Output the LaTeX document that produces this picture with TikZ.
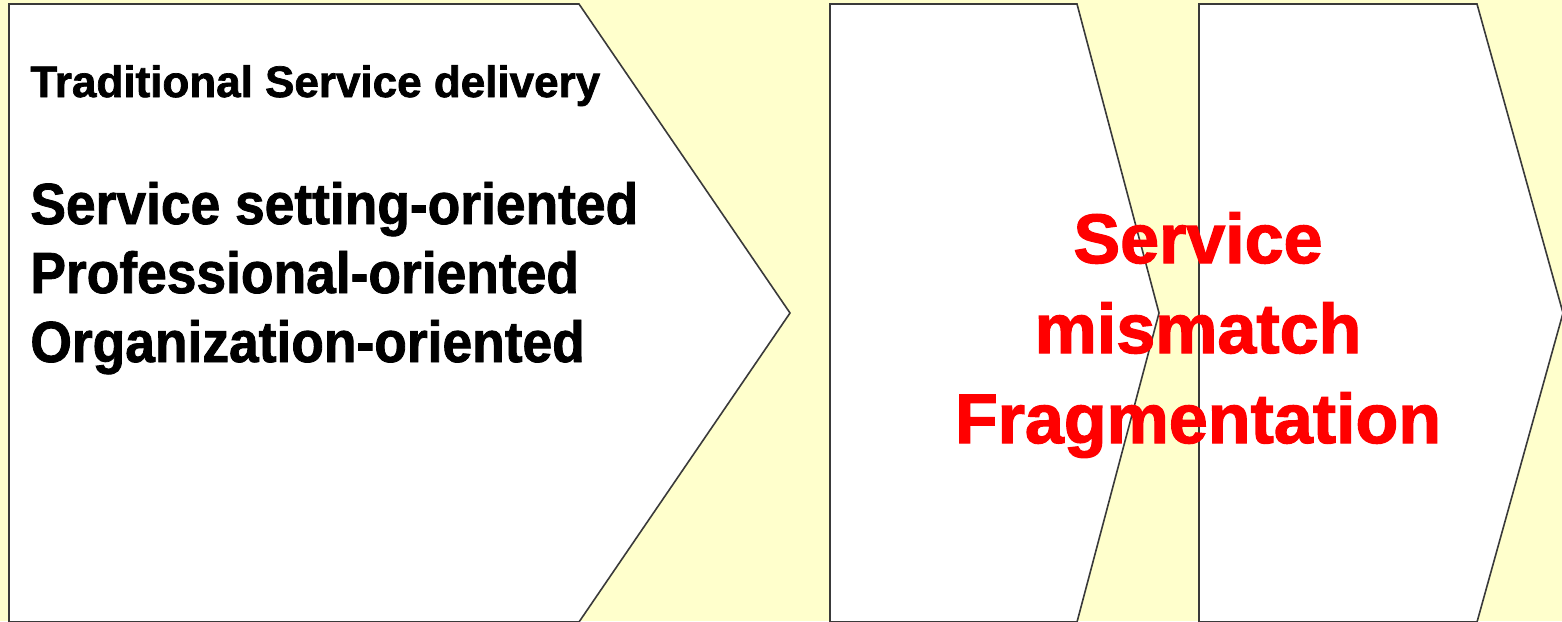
\documentclass[tikz,border=0pt]{standalone}
\usepackage{fontspec}
\setmainfont{Liberation Sans}
\newfontfamily\headfont[FakeBold=1.6]{Liberation Sans Bold}
\newfontfamily\bodyfont[FakeStretch=0.92,FakeBold=1.4]{Liberation Sans Bold}
\newfontfamily\warnfont[FakeBold=1.8]{Liberation Sans Bold}
\definecolor{paper}{HTML}{FFFFCC}
\definecolor{edge}{HTML}{3A3A3A}
\definecolor{alarm}{HTML}{FF0000}
\begin{document}
\begin{tikzpicture}[
		x = 0.5pt, y = -0.5pt,
		chev/.style = {draw=edge, fill=white, line width=0.8pt, line join=miter},
		head/.style = {anchor=base west, inner sep=0pt, font=\fontsize{22}{26}\headfont},
		item/.style = {anchor=base west, inner sep=0pt, font=\fontsize{29}{34}\bodyfont},
		warn/.style = {anchor=base, inner sep=0pt, text=alarm, font=\fontsize{35}{42}\warnfont}
		]
		\fill[paper] (0,0) rectangle (1562,621);
		\useasboundingbox (0,0) rectangle (1562,621);
		
		\draw[chev] (9,4) -- (579,4) -- (790,313) -- (579,622) -- (9,622) -- cycle;
		\draw[chev] (830,4) -- (1077,4) -- (1159,313) -- (1077,622) -- (830,622) -- cycle;
		\draw[chev] (1199,4) -- (1477,4) -- (1563,313) -- (1477,622) -- (1199,622) -- cycle;
		
		\node[head] (trad) at (30,97) {Traditional Service delivery};
		
		\node[item] (setting) at (30,224) {Service setting-oriented};
		\node[item] (prof)    at (30,293) {Professional-oriented};
		\node[item] (org)     at (30,362) {Organization-oriented};
		
		\node[warn] (serv)  at (1198,263) {Service};
		\node[warn] (mism)  at (1198,353) {mismatch};
		\node[warn] (frag)  at (1198,443) {Fragmentation};
	\end{tikzpicture}
\end{document}
